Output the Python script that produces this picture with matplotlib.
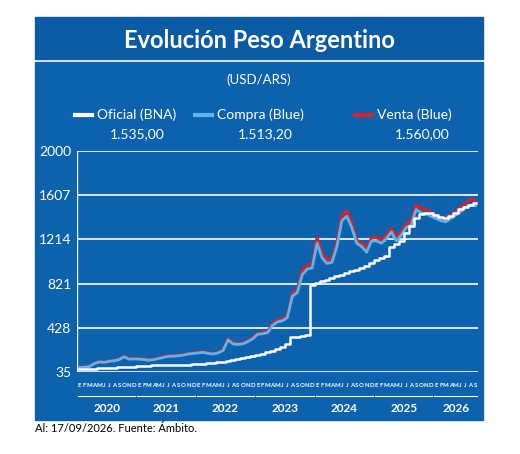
import matplotlib
matplotlib.use("Agg")
import matplotlib.pyplot as plt
import numpy as np
from matplotlib.patches import Rectangle

plt.rcParams['font.family'] = ['Lato', 'DejaVu Sans']

months_labels = list("EFMAMJJASOND")
years = ["2020", "2021", "2022", "2023", "2024", "2025", "2026"]
oficial = [62,63,64,66,68,70,72,74,76,78,80,83,
           87,89,92,94,96,97,98,99,99,100,101,103,
           105,108,112,116,120,126,132,139,147,156,165,175,
           187,198,210,225,240,255,280,350,350,355,360,810,
           825,840,855,870,885,900,915,930,945,960,975,1000,
           1030,1050,1070,1150,1170,1200,1270,1330,1400,1440,1450,1450,
           1430,1410,1400,1420,1450,1480,1500,1520,1535]
compra = [75,78,83,110,125,120,130,135,145,170,150,150,
          150,145,140,145,155,165,175,175,180,185,195,200,
          205,210,200,195,205,225,320,285,280,285,305,330,
          370,375,385,450,480,490,520,710,740,900,950,960,
          1180,1050,1000,1010,1150,1380,1420,1320,1180,1150,1100,1200,
          1200,1180,1220,1280,1200,1250,1320,1340,1480,1450,1440,1420,
          1400,1380,1370,1400,1430,1460,1500,1520,1513]
venta = [78,81,86,115,130,125,134,139,149,175,155,155,
         155,150,145,150,160,170,180,180,185,190,200,205,
         210,215,205,200,210,230,330,295,288,293,313,340,
         380,385,395,465,495,505,540,735,770,940,985,1000,
         1230,1090,1030,1040,1190,1430,1470,1360,1210,1180,1130,1230,
         1230,1210,1250,1310,1230,1280,1350,1380,1520,1490,1480,1455,
         1430,1410,1400,1430,1460,1500,1540,1570,1560]
yticks = [35, 428, 821, 1214, 1607, 2000]

BG = "#0d62ad"
fig = plt.figure(figsize=(5.2, 4.54), dpi=100)
fig.patch.set_facecolor("white")
W, H = 520, 454
def fx(x): return x / W
def fy(y): return 1 - y / H
fig.add_artist(Rectangle((fx(35), fy(420)), fx(483-35), fy(62)-fy(420), transform=fig.transFigure, color=BG, zorder=0))
fig.add_artist(Rectangle((fx(35), fy(59)), fx(483-35), fy(17)-fy(59), transform=fig.transFigure, color="#0a5ba3", zorder=0))
fig.text(fx(259), fy(40), "Evolución Peso Argentino", color="white", fontsize=17, fontweight="bold", ha="center", va="center")
fig.text(fx(259), fy(80), "(USD/ARS)", color="white", fontsize=9.5, ha="center", va="center")

for x0, col, lab in [(75, "white", "Oficial (BNA)"),
                     (195, "#5fb4e8", "Compra (Blue)"),
                     (355, "#d8232a", "Venta (Blue)")]:
    fig.add_artist(plt.Line2D([fx(x0), fx(x0+17)], [fy(115), fy(115)], color=col, lw=3, transform=fig.transFigure))
    fig.text(fx(x0+22), fy(115), lab, color="white", fontsize=10, va="center")
fig.text(fx(110), fy(134), "1.535,00", color="white", fontsize=10, va="center")
fig.text(fx(238), fy(134), "1.513,20", color="white", fontsize=10, va="center")
fig.text(fx(395), fy(134), "1.560,00", color="white", fontsize=10, va="center")

ax = fig.add_axes([fx(77), fy(372), fx(478-77), fy(151)-fy(372)])
ax.set_facecolor(BG)
n = len(oficial)
x = np.arange(n)
ax.plot(x, venta, color="#d8232a", lw=2.2, zorder=3)
ax.plot(x, compra, color="#5fb4e8", lw=2.0, zorder=4)
ax.plot(x, oficial, color="white", lw=1.8, zorder=5, drawstyle="steps-mid")
ax.set_xlim(-0.5, n - 0.5)
ax.set_ylim(35, 2000)
ax.set_yticks(yticks)
ax.set_yticklabels([str(v) for v in yticks], color="white", fontsize=10)
ax.tick_params(axis="y", length=0, pad=4)
ax.set_xticks([])
for yv in yticks:
    ax.axhline(yv, color="white", lw=1.2, zorder=1)
for s in ax.spines.values():
    s.set_visible(False)
ax.axvline(-0.5, color="white", lw=1, ymin=0, ymax=1)

for i in range(n):
    ax.text(i, -0.06, months_labels[i % 12], transform=ax.get_xaxis_transform(), color="white",
            fontsize=4.3, ha="center", va="center", fontweight="bold")
for k, yr in enumerate(years):
    a = k * 12 - 0.3
    b = min(k * 12 + 11, n - 1) + 0.3
    ax.plot([a, b], [-0.11, -0.11], transform=ax.get_xaxis_transform(), color="white", lw=0.8, clip_on=False)
    ax.text((a + b) / 2, -0.165, yr, transform=ax.get_xaxis_transform(), color="white",
            fontsize=8.5, ha="center", va="center", fontweight="bold")

fig.text(fx(35), fy(429), "Al: 17/09/2026. Fuente: Ámbito.", color="black", fontsize=8, va="center")
fig.savefig("out.png", dpi=100, facecolor="white")
